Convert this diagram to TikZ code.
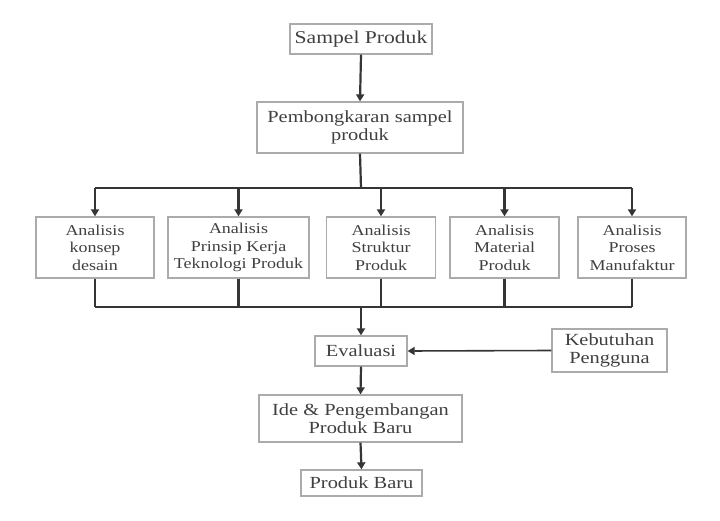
\documentclass[tikz,border=0pt]{standalone}
\usepackage{fontspec}
\setmainfont[FakeStretch=1.2]{Liberation Serif}
\usetikzlibrary{arrows.meta}
\definecolor{txt}{HTML}{404040}
\definecolor{boxc}{HTML}{ABABAB}
\definecolor{linec}{HTML}{353535}
\begin{document}
\begin{tikzpicture}[x=1pt,y=-1pt,
  box/.style={draw=boxc,line width=1.3pt,fill=white,text=txt,align=center,inner sep=0pt,
    font=\fontsize{17}{18}\selectfont},
  rowbox/.style={box,font=\fontsize{15}{17.5}\selectfont},
  conn/.style={draw=linec,line width=2.2pt},
  arr/.style={conn,-{Triangle[length=7pt,width=8pt]}}]
\useasboundingbox (0,0) rectangle (720,521);
\node[box,minimum width=142pt,minimum height=30pt,font=\fontsize{18}{19}\selectfont] (sampel) at (361,39) {Sampel Produk};
\node[box,minimum width=206pt,minimum height=51pt] (pemb) at (360,127.5) {Pembongkaran sampel\\produk};
\node[rowbox,minimum width=118pt,minimum height=61pt] (a1) at (95,247.5) {Analisis\\konsep\\desain};
\node[rowbox,minimum width=141pt,minimum height=61pt] (a2) at (238.5,247.5) {Analisis\\Prinsip Kerja\\Teknologi Produk};
\node[rowbox,minimum width=109pt,minimum height=61pt] (a3) at (381,247.5) {Analisis\\Struktur\\Produk};
\node[rowbox,minimum width=109pt,minimum height=61pt] (a4) at (504.5,247.5) {Analisis\\Material\\Produk};
\node[rowbox,minimum width=108pt,minimum height=61pt] (a5) at (632,247.5) {Analisis\\Proses\\Manufaktur};
\node[box,minimum width=92pt,minimum height=30pt] (eval) at (361,351) {Evaluasi};
\node[box,minimum width=115pt,minimum height=43pt] (keb) at (609.5,350.5) {Kebutuhan\\Pengguna};
\node[box,minimum width=203pt,minimum height=47pt] (ide) at (360.5,418.5) {Ide \& Pengembangan\\Produk Baru};
\node[box,minimum width=121pt,minimum height=26pt] (baru) at (361.5,483) {Produk Baru};
\coordinate (busT) at (361,188);
\coordinate (busB) at (361,307);
\draw[arr] (sampel.south) -- (pemb.north);
\draw[conn] (pemb.south) -- (busT);
\draw[conn] (a1.north |- busT) -- (a5.north |- busT);
\foreach \n in {a1,a2,a3,a4,a5}{
  \draw[arr] (\n.north |- busT) -- (\n.north);
  \draw[conn] (\n.south) -- (\n.south |- busB);
}
\draw[conn] (a1.south |- busB) -- (a5.south |- busB);
\draw[arr] (busB) -- (eval.north);
\draw[arr,line width=1.6pt] (keb.west) -- (eval.east);
\draw[arr] (eval.south) -- (ide.north);
\draw[arr] (ide.south) -- (baru.north);
\end{tikzpicture}
\end{document}
